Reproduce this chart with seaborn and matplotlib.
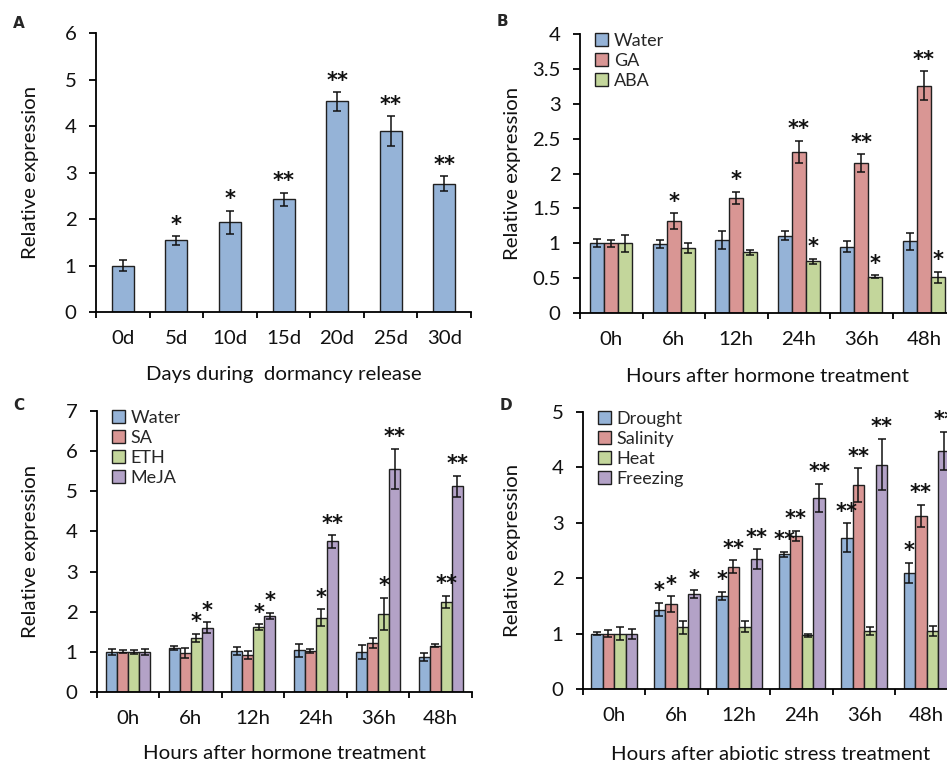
import matplotlib
matplotlib.use("Agg")
import matplotlib.pyplot as plt
from matplotlib.ticker import FuncFormatter, FixedLocator
import seaborn as sns
import pandas as pd
import numpy as np

# ---------------- data ----------------
days = ["0d", "5d", "10d", "15d", "20d", "25d", "30d"]
a_vals = [1.00, 1.54, 1.93, 2.42, 4.53, 3.89, 2.76]
a_err = [0.12, 0.09, 0.25, 0.15, 0.20, 0.32, 0.16]
a_sig = ["", "*", "*", "**", "**", "**", "**"]

hours = ["0h", "6h", "12h", "24h", "36h", "48h"]

b_groups = ["Water", "GA", "ABA"]
b_water = [1.00, 0.99, 1.05, 1.11, 0.95, 1.03]
b_water_err = [0.06, 0.06, 0.13, 0.06, 0.08, 0.12]
b_ga = [1.00, 1.32, 1.65, 2.31, 2.15, 3.26]
b_ga_err = [0.05, 0.11, 0.09, 0.16, 0.13, 0.21]
b_aba = [1.00, 0.93, 0.87, 0.74, 0.52, 0.51]
b_aba_err = [0.12, 0.07, 0.04, 0.04, 0.025, 0.08]
b_water_sig = ["", "", "", "", "", ""]
b_ga_sig = ["", "*", "*", "**", "**", "**"]
b_aba_sig = ["", "", "", "*", "*", "*"]

c_groups = ["Water", "SA", "ETH", "MeJA"]
c_water = [1.00, 1.10, 1.02, 1.04, 1.00, 0.87]
c_water_err = [0.08, 0.05, 0.09, 0.16, 0.17, 0.10]
c_sa = [1.00, 0.98, 0.93, 1.02, 1.22, 1.15]
c_sa_err = [0.04, 0.12, 0.10, 0.05, 0.12, 0.04]
c_eth = [1.00, 1.35, 1.62, 1.85, 1.95, 2.25]
c_eth_err = [0.05, 0.10, 0.07, 0.21, 0.40, 0.15]
c_meja = [1.00, 1.60, 1.90, 3.75, 5.56, 5.13]
c_meja_err = [0.08, 0.14, 0.07, 0.15, 0.50, 0.26]
c_water_sig = ["", "", "", "", "", ""]
c_sa_sig = ["", "", "", "", "", ""]
c_eth_sig = ["", "*", "*", "*", "*", "**"]
c_meja_sig = ["", "*", "*", "**", "**", "**"]

d_groups = ["Drought", "Salinity", "Heat", "Freezing"]
d_drought = [1.00, 1.43, 1.68, 2.43, 2.73, 2.10]
d_drought_err = [0.02, 0.12, 0.07, 0.05, 0.26, 0.18]
d_salinity = [1.00, 1.53, 2.21, 2.76, 3.68, 3.12]
d_salinity_err = [0.06, 0.14, 0.11, 0.09, 0.30, 0.20]
d_heat = [1.00, 1.11, 1.12, 0.97, 1.04, 1.05]
d_heat_err = [0.12, 0.11, 0.10, 0.03, 0.07, 0.09]
d_freezing = [1.00, 1.71, 2.34, 3.45, 4.05, 4.30]
d_freezing_err = [0.09, 0.07, 0.18, 0.25, 0.46, 0.34]
d_drought_sig = ["", "*", "*", "**", "**", "*"]
d_salinity_sig = ["", "*", "**", "**", "**", "**"]
d_heat_sig = ["", "", "", "", "", ""]
d_freezing_sig = ["", "*", "**", "**", "**", "**"]

colors = ["#95B3D7", "#D99694", "#C3D69B", "#B3A2C7"]
EDGE = "#202020"

# ---------------- style ----------------
sns.set_theme(style="ticks")
plt.rcParams["font.family"] = ["Lato", "DejaVu Sans"]
plt.rcParams["axes.linewidth"] = 1.3
plt.rcParams["axes.edgecolor"] = "black"
FS = 14.7
LFS = 13

fig = plt.figure(figsize=(9.47, 7.64), dpi=100)

def make_long(cats, groups, vals, errs, sigs):
    rows = []
    for g, v, e, s in zip(groups, vals, errs, sigs):
        for c, vv, ee, ss in zip(cats, v, e, s):
            rows.append(dict(cat=c, group=g, value=vv, err=ee, sig=ss))
    return pd.DataFrame(rows)

def style_axis(ax, n, ymax, ystep, xlabel, ylab_x=-0.155, xlab_y=-0.185):
    ax.set_xlim(-0.5, n - 0.5)
    ax.set_ylim(0, ymax)
    ax.set_yticks(np.arange(0, ymax + 1e-9, ystep))
    ax.yaxis.set_major_formatter(FuncFormatter(lambda v, p: "%g" % v))
    ax.xaxis.set_minor_locator(FixedLocator(np.arange(-0.5, n, 1.0)))
    ax.tick_params(axis="x", which="major", length=0, pad=13, labelsize=FS, colors="#111111")
    ax.tick_params(axis="x", which="minor", length=4.5, width=1.3, direction="out", color="black")
    ax.tick_params(axis="y", which="major", length=5, width=1.3, direction="out",
                   labelsize=FS, pad=9, color="black", labelcolor="#111111")
    sns.despine(ax=ax)
    ax.set_xlabel(xlabel, fontsize=FS, color="#111111")
    ax.set_ylabel("Relative expression", fontsize=FS, color="#111111")
    ax.yaxis.set_label_coords(ylab_x, 0.5)
    ax.xaxis.set_label_coords(0.5, xlab_y)

def add_err_and_sig(ax, df, cats, groups, dy):
    patches = sorted([p for c in ax.containers for p in c.patches],
                     key=lambda p: p.get_x())
    order = df.assign(ci=df.cat.map({c: i for i, c in enumerate(cats)}),
                      gi=df.group.map({g: i for i, g in enumerate(groups)}))
    order = order.sort_values(["ci", "gi"]).reset_index(drop=True)
    for p, (_, row) in zip(patches, order.iterrows()):
        x = p.get_x() + p.get_width() / 2
        h = p.get_height()
        ax.errorbar(x, h, yerr=row.err, fmt="none", ecolor="#111111",
                    elinewidth=1.1, capsize=3.2, capthick=1.1, zorder=5)
        if row.sig:
            ax.text(x, h + row.err + dy, row.sig, ha="center", va="bottom",
                    fontsize=15, fontweight="bold", family="DejaVu Sans",
                    color="#111111", zorder=6)

def grouped_panel(rect, df, cats, groups, width, ymax, ystep, xlabel, dy,
                  ylab_x, xlab_y):
    ax = fig.add_axes(rect)
    sns.barplot(data=df, x="cat", y="value", hue="group", hue_order=groups,
                order=cats, palette=colors[:len(groups)], width=width, errorbar=None,
                edgecolor=EDGE, linewidth=1.0, saturation=1, ax=ax)
    add_err_and_sig(ax, df, cats, groups, dy)
    style_axis(ax, len(cats), ymax, ystep, xlabel, ylab_x, xlab_y)
    sns.move_legend(ax, "upper left", bbox_to_anchor=(0.02, 1.03), frameon=False,
                    title=None, fontsize=LFS, handlelength=0.75, handleheight=0.75,
                    handletextpad=0.3, labelspacing=0.22, borderaxespad=0)
    return ax

# ---------------- panel A ----------------
axA = fig.add_axes([0.1014, 0.5916, 0.396, 0.3652])
dfA = pd.DataFrame(dict(cat=days, value=a_vals, err=a_err, sig=a_sig, group="all"))
sns.barplot(data=dfA, x="cat", y="value", order=days, color=colors[0], width=0.41,
            errorbar=None, edgecolor=EDGE, linewidth=1.0, saturation=1, ax=axA)
add_err_and_sig(axA, dfA, days, ["all"], 0.03)
style_axis(axA, len(days), 6, 1, "Days during  dormancy release", -0.152, -0.193)

# ---------------- panel B ----------------
dfB = make_long(hours, b_groups, [b_water, b_ga, b_aba],
                [b_water_err, b_ga_err, b_aba_err],
                [b_water_sig, b_ga_sig, b_aba_sig])
grouped_panel([0.6125, 0.5903, 0.396, 0.3652], dfB, hours, b_groups, 0.67, 4, 0.5,
              "Hours after hormone treatment", 0.02, -0.157, -0.198)

# ---------------- panel C ----------------
dfC = make_long(hours, c_groups, [c_water, c_sa, c_eth, c_meja],
                [c_water_err, c_sa_err, c_eth_err, c_meja_err],
                [c_water_sig, c_sa_sig, c_eth_sig, c_meja_sig])
grouped_panel([0.1024, 0.0942, 0.396, 0.3678], dfC, hours, c_groups, 0.70, 7, 1,
              "Hours after hormone treatment", 0.04, -0.155, -0.19)

# ---------------- panel D ----------------
dfD = make_long(hours, d_groups, [d_drought, d_salinity, d_heat, d_freezing],
                [d_drought_err, d_salinity_err, d_heat_err, d_freezing_err],
                [d_drought_sig, d_salinity_sig, d_heat_sig, d_freezing_sig])
grouped_panel([0.6156, 0.0982, 0.396, 0.3626], dfD, hours, d_groups, 0.74, 5, 1,
              "Hours after abiotic stress treatment", 0.03, -0.165, -0.205)

# ---------------- panel letters ----------------
for lbl, x, y in [("A", 13, 23), ("B", 497, 22), ("C", 13, 406), ("D", 500, 405)]:
    fig.text(x / 947, 1 - y / 764, lbl, fontsize=11, fontweight="bold",
             family="DejaVu Sans", va="center", ha="left")

fig.savefig("out.png", dpi=100)
